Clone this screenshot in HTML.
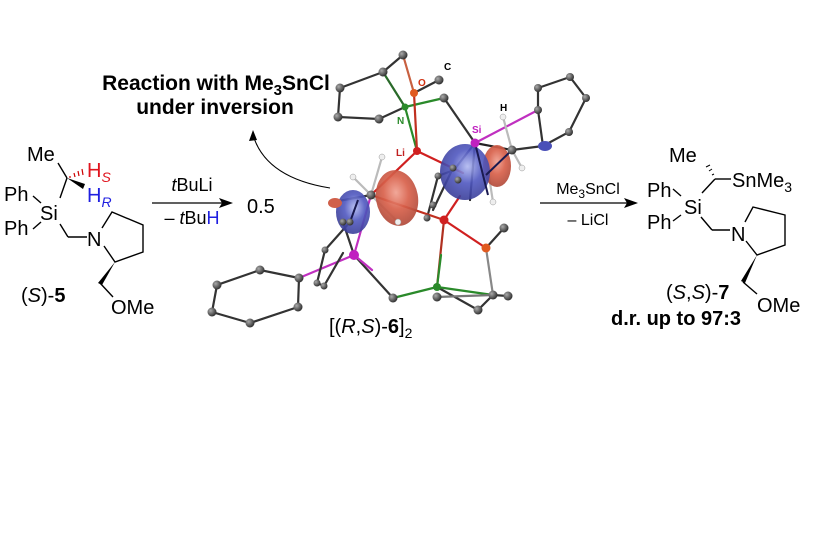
<!DOCTYPE html>
<html><head><meta charset="utf-8"><style>
html,body{margin:0;padding:0;background:#fff}
svg{display:block}
text{font-family:"Liberation Sans",Arial,sans-serif}
</style></head><body>
<svg width="840" height="560" viewBox="0 0 840 560" xmlns="http://www.w3.org/2000/svg">
<defs>
<radialGradient id="ba" cx="35%" cy="35%" r="65%"><stop offset="0" stop-color="#aaa"/><stop offset="1" stop-color="#333"/></radialGradient>
<radialGradient id="rd" cx="50%" cy="40%" r="60%"><stop offset="0" stop-color="#f0a090"/><stop offset="0.5" stop-color="#d8604a"/><stop offset="1" stop-color="#b04a3a"/></radialGradient>
<radialGradient id="bl" cx="55%" cy="40%" r="60%"><stop offset="0" stop-color="#b0b8f0"/><stop offset="0.5" stop-color="#5058c0"/><stop offset="1" stop-color="#3a3e98"/></radialGradient>
</defs>

<!-- Left structure (S)-5 -->
<g stroke="#000" stroke-width="1.4" fill="none">
<line x1="58" y1="163" x2="67" y2="178"/>
<line x1="67" y1="178" x2="60" y2="198"/>
<line x1="33" y1="196" x2="41" y2="203"/>
<line x1="33" y1="229" x2="41" y2="222"/>
<line x1="60" y1="224" x2="68" y2="237"/>
<line x1="68" y1="237" x2="87" y2="237"/>
<polyline points="102,228 112,212 143,225 143,252 115,262 104,246"/>
<line x1="100" y1="283" x2="113" y2="297"/>
</g>
<g stroke="#c00" stroke-width="1.2">
<line x1="70" y1="176" x2="70" y2="178"/><line x1="74" y1="173" x2="75" y2="177"/><line x1="78" y1="171" x2="79" y2="176"/><line x1="82" y1="169" x2="83" y2="175"/>
</g>
<polygon points="67,178 85,184 83,189" fill="#000"/>
<polygon points="115,262 98,283 102,285" fill="#000"/>
<text x="27" y="161" font-size="20">Me</text>
<text x="87" y="177" font-size="20" fill="#e0141e">H<tspan font-size="14" font-style="italic" dy="5">S</tspan></text>
<text x="87" y="202" font-size="20" fill="#1f1fe0">H<tspan font-size="14" font-style="italic" dy="5">R</tspan></text>
<text x="4" y="201" font-size="20">Ph</text>
<text x="40" y="220" font-size="20">Si</text>
<text x="4" y="235" font-size="20">Ph</text>
<text x="87" y="246" font-size="20">N</text>
<text x="111" y="314" font-size="20">OMe</text>
<text x="21" y="302" font-size="20">(<tspan font-style="italic">S</tspan>)-<tspan font-weight="bold">5</tspan></text>

<!-- Arrow 1 -->
<line x1="152" y1="203" x2="222" y2="203" stroke="#000" stroke-width="1.3"/>
<polygon points="233,203 219,198 222,203 219,208" fill="#000"/>
<text x="192" y="191" font-size="18" text-anchor="middle"><tspan font-style="italic">t</tspan>BuLi</text>
<text x="192" y="224" font-size="18" text-anchor="middle">– <tspan font-style="italic">t</tspan>Bu<tspan fill="#1f1fe0">H</tspan></text>
<text x="247" y="213" font-size="20">0.5</text>

<!-- Reaction text -->
<text x="216" y="90" font-size="21" font-weight="bold" text-anchor="middle">Reaction with Me<tspan font-size="15" dy="5">3</tspan><tspan dy="-5">SnCl</tspan></text>
<text x="215" y="114" font-size="21" font-weight="bold" text-anchor="middle">under inversion</text>
<path d="M330,188 Q268,178 254,138" stroke="#000" stroke-width="1.1" fill="none"/>
<polygon points="253,130 249,141 257,140" fill="#000"/>

<!-- Crystal structure -->
<g stroke-width="2.2" fill="none" stroke-linecap="round">
<polyline points="403,55 383,72 340,88 338,117 379,119 405,107" stroke="#333"/>
<line x1="383" y1="72" x2="405" y2="107" stroke="#2a6a2a"/>
<line x1="403" y1="55" x2="414" y2="93" stroke="#c86040"/>
<line x1="414" y1="93" x2="439" y2="80" stroke="#333"/>
<line x1="405" y1="107" x2="444" y2="98" stroke="#2a8a2a"/>
<line x1="444" y1="98" x2="475" y2="143" stroke="#333"/>
<line x1="405" y1="107" x2="417" y2="151" stroke="#2a8a2a"/>
<line x1="414" y1="93" x2="417" y2="151" stroke="#c03020"/>
<line x1="417" y1="151" x2="463" y2="173" stroke="#d02020"/>
<line x1="417" y1="151" x2="371" y2="195" stroke="#d02020"/>
<line x1="475" y1="143" x2="538" y2="110" stroke="#c030c0"/>
<polyline points="538,110 538,88 570,77 586,98 569,132 543,146 538,110" stroke="#333"/>
<line x1="475" y1="143" x2="512" y2="150" stroke="#222"/>
<line x1="512" y1="150" x2="503" y2="117" stroke="#bbb"/>
<line x1="512" y1="150" x2="522" y2="168" stroke="#bbb"/>
<line x1="512" y1="150" x2="543" y2="146" stroke="#333"/>
<line x1="475" y1="143" x2="470" y2="200" stroke="#222"/>
<line x1="475" y1="143" x2="454" y2="170" stroke="#1a1a60"/>
<line x1="454" y1="170" x2="438" y2="176" stroke="#333"/>
<line x1="438" y1="176" x2="427" y2="218" stroke="#333"/>
<line x1="453" y1="168" x2="433" y2="210" stroke="#333"/>
<line x1="493" y1="202" x2="488" y2="170" stroke="#bbb"/>
<line x1="371" y1="195" x2="444" y2="220" stroke="#c03020"/>
<line x1="444" y1="220" x2="460" y2="196" stroke="#d02020"/>
<line x1="444" y1="220" x2="486" y2="248" stroke="#d02020"/>
<line x1="486" y1="248" x2="504" y2="228" stroke="#333"/>
<line x1="444" y1="220" x2="437" y2="287" stroke="#b03020"/>
<line x1="437" y1="287" x2="441" y2="255" stroke="#2a8a2a"/>
<line x1="486" y1="248" x2="493" y2="295" stroke="#888"/>
<line x1="437" y1="287" x2="393" y2="298" stroke="#2a8a2a"/>
<polyline points="437,287 478,310 493,295 508,296" stroke="#333"/>
<line x1="437" y1="287" x2="493" y2="295" stroke="#2a8a2a"/>
<line x1="437" y1="297" x2="493" y2="295" stroke="#777"/>
<line x1="393" y1="298" x2="354" y2="255" stroke="#333"/>
<line x1="354" y1="255" x2="372" y2="270" stroke="#c030c0"/>
<line x1="354" y1="255" x2="371" y2="195" stroke="#c030c0"/>
<line x1="354" y1="255" x2="299" y2="278" stroke="#c030c0"/>
<polyline points="299,278 260,270 217,285 212,312 250,323 298,307 299,278" stroke="#333"/>
<line x1="354" y1="255" x2="343" y2="222" stroke="#333"/>
<polyline points="350,222 325,250 317,283 324,286 343,253" stroke="#333"/>
<line x1="371" y1="195" x2="382" y2="157" stroke="#bbb"/>
<line x1="371" y1="195" x2="353" y2="177" stroke="#bbb"/>
<line x1="371" y1="195" x2="398" y2="222" stroke="#bbb"/>
<line x1="371" y1="195" x2="333" y2="202" stroke="#333"/>
</g>
<ellipse cx="397" cy="198" rx="21" ry="28" fill="url(#rd)" opacity="0.92" transform="rotate(-10 397 198)"/>
<ellipse cx="353" cy="212" rx="17" ry="22" fill="url(#bl)" opacity="0.9"/>
<ellipse cx="335" cy="203" rx="7" ry="5" fill="#d0604a"/>
<ellipse cx="497" cy="166" rx="14" ry="21" fill="url(#rd)" opacity="0.92"/>
<ellipse cx="465" cy="172" rx="25" ry="28" fill="url(#bl)" opacity="0.9"/>
<ellipse cx="545" cy="146" rx="7" ry="5" fill="#4a50b8"/>
<g stroke-width="2" stroke="#1a1a50" fill="none">
<line x1="475" y1="143" x2="488" y2="195"/><line x1="512" y1="150" x2="486" y2="175"/>
<line x1="350" y1="222" x2="358" y2="200"/>
</g>
<g fill="url(#ba)">
<circle cx="403" cy="55" r="4.5"/><circle cx="383" cy="72" r="4.5"/><circle cx="340" cy="88" r="4.5"/><circle cx="338" cy="117" r="4.5"/><circle cx="379" cy="119" r="4.5"/><circle cx="439" cy="80" r="4.5"/><circle cx="444" cy="98" r="4.5"/>
<circle cx="538" cy="110" r="4"/><circle cx="538" cy="88" r="4"/><circle cx="570" cy="77" r="4"/><circle cx="586" cy="98" r="4"/><circle cx="569" cy="132" r="4"/><circle cx="512" cy="150" r="4.5"/>
<circle cx="371" cy="195" r="4.5"/><circle cx="504" cy="228" r="4.5"/><circle cx="393" cy="298" r="4.5"/>
<circle cx="478" cy="310" r="4.5"/><circle cx="493" cy="295" r="4.5"/><circle cx="508" cy="296" r="4.5"/><circle cx="437" cy="297" r="4.5"/>
<circle cx="299" cy="278" r="4.5"/><circle cx="260" cy="270" r="4.5"/><circle cx="217" cy="285" r="4.5"/><circle cx="212" cy="312" r="4.5"/><circle cx="250" cy="323" r="4.5"/><circle cx="298" cy="307" r="4.5"/>
<circle cx="325" cy="250" r="3.5"/><circle cx="317" cy="283" r="3.5"/><circle cx="324" cy="286" r="3.5"/><circle cx="343" cy="222" r="3.5"/><circle cx="350" cy="222" r="3.5"/>
<circle cx="427" cy="218" r="3.5"/><circle cx="438" cy="176" r="3.5"/><circle cx="433" cy="205" r="3.5"/><circle cx="453" cy="168" r="3.5"/><circle cx="458" cy="180" r="3.5"/>
</g>
<g fill="#eee" stroke="#999" stroke-width="0.5">
<circle cx="503" cy="117" r="3"/><circle cx="522" cy="168" r="3"/><circle cx="493" cy="202" r="3"/><circle cx="382" cy="157" r="3"/><circle cx="353" cy="177" r="3"/><circle cx="398" cy="222" r="3"/>
</g>
<circle cx="405" cy="107" r="3.5" fill="#2a8a2a"/><circle cx="437" cy="287" r="4" fill="#2a8a2a"/>
<circle cx="414" cy="93" r="4" fill="#e05a20"/><circle cx="486" cy="248" r="4.5" fill="#e05a20"/>
<circle cx="417" cy="151" r="4" fill="#d02020"/><circle cx="444" cy="220" r="4.5" fill="#d02020"/>
<circle cx="475" cy="143" r="4.5" fill="#c020c0"/><circle cx="354" cy="255" r="5" fill="#c020c0"/>
<text x="418" y="86" font-size="10" font-weight="bold" fill="#d03010">O</text>
<text x="444" y="70" font-size="10" font-weight="bold">C</text>
<text x="397" y="124" font-size="10" font-weight="bold" fill="#2a8a2a">N</text>
<text x="396" y="156" font-size="10" font-weight="bold" fill="#c02020">Li</text>
<text x="472" y="133" font-size="10" font-weight="bold" fill="#c020c0">Si</text>
<text x="500" y="111" font-size="10" font-weight="bold">H</text>
<text x="329" y="333" font-size="20">[(<tspan font-style="italic">R</tspan>,<tspan font-style="italic">S</tspan>)-<tspan font-weight="bold">6</tspan>]<tspan font-size="14" dy="5">2</tspan></text>

<!-- Arrow 2 -->
<line x1="540" y1="203" x2="627" y2="203" stroke="#000" stroke-width="1.3"/>
<polygon points="638,203 624,198 627,203 624,208" fill="#000"/>
<text x="588" y="194" font-size="16" text-anchor="middle">Me<tspan font-size="12" dy="4">3</tspan><tspan dy="-4">SnCl</tspan></text>
<text x="588" y="225" font-size="16" text-anchor="middle">– LiCl</text>

<!-- Right structure -->
<g stroke="#000" stroke-width="1.4" fill="none">
<line x1="715" y1="179" x2="731" y2="179"/>
<line x1="715" y1="179" x2="702" y2="193"/>
<line x1="673" y1="189" x2="681" y2="196"/>
<line x1="673" y1="221" x2="681" y2="215"/>
<line x1="701" y1="217" x2="712" y2="230"/>
<line x1="712" y1="230" x2="730" y2="230"/>
<polyline points="745,222 753,207 785,215 785,245 757,255 746,241"/>
<line x1="743" y1="282" x2="757" y2="294"/>
</g>
<g stroke="#000" stroke-width="1">
<line x1="712" y1="175" x2="714" y2="174"/><line x1="709" y1="171" x2="712" y2="169"/><line x1="706" y1="167" x2="710" y2="165"/>
</g>
<polygon points="757,255 741,281 745,283" fill="#000"/>
<text x="669" y="162" font-size="20">Me</text>
<text x="732" y="187" font-size="20">SnMe<tspan font-size="14" dy="5">3</tspan></text>
<text x="647" y="197" font-size="20">Ph</text>
<text x="684" y="214" font-size="20">Si</text>
<text x="647" y="229" font-size="20">Ph</text>
<text x="731" y="241" font-size="20">N</text>
<text x="757" y="312" font-size="20">OMe</text>
<text x="666" y="299" font-size="20">(<tspan font-style="italic">S</tspan>,<tspan font-style="italic">S</tspan>)-<tspan font-weight="bold">7</tspan></text>
<text x="611" y="325" font-size="20" font-weight="bold">d.r. up to 97:3</text>
</svg>
</body></html>
